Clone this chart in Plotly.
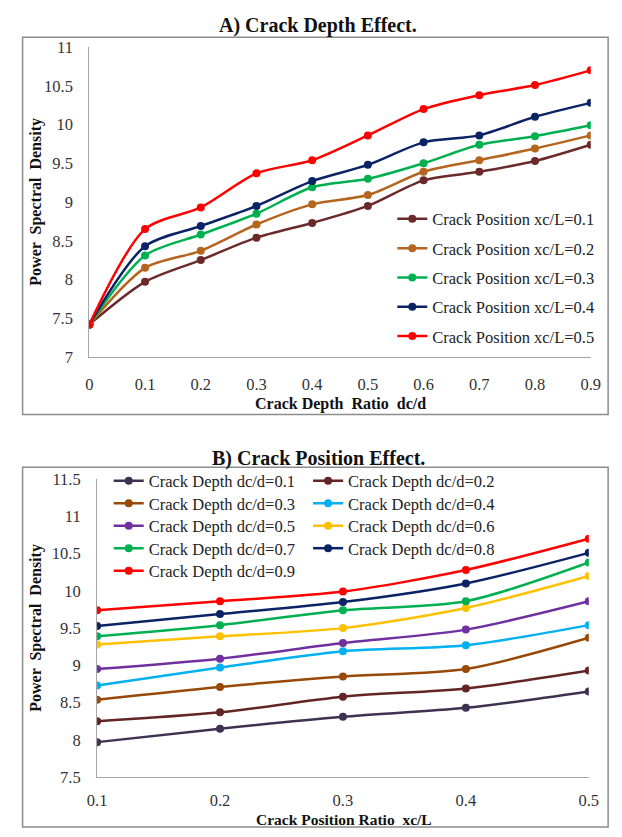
import plotly.graph_objects as go

# ---------------- data ----------------
intact_psd = 7.42
depth_ratios = [0.0, 0.1, 0.2, 0.3, 0.4, 0.5, 0.6, 0.7, 0.8, 0.9]
position_ratios = [0.1, 0.2, 0.3, 0.4, 0.5]

# PSD for each crack depth dc/d, over crack positions xc/L = 0.1 .. 0.5
psd_d01 = [7.97, 8.15, 8.31, 8.43, 8.65]
psd_d02 = [8.25, 8.37, 8.58, 8.69, 8.93]
psd_d03 = [8.54, 8.71, 8.85, 8.95, 9.37]
psd_d04 = [8.73, 8.97, 9.19, 9.27, 9.54]
psd_d05 = [8.95, 9.09, 9.30, 9.48, 9.86]
psd_d06 = [9.28, 9.39, 9.50, 9.77, 10.20]
psd_d07 = [9.39, 9.54, 9.74, 9.86, 10.38]
psd_d08 = [9.53, 9.69, 9.85, 10.10, 10.51]
psd_d09 = [9.74, 9.86, 9.99, 10.28, 10.70]

depth_rows = [psd_d01, psd_d02, psd_d03, psd_d04, psd_d05,
              psd_d06, psd_d07, psd_d08, psd_d09]
depth_labels = ["0.1", "0.2", "0.3", "0.4", "0.5", "0.6", "0.7", "0.8", "0.9"]
position_labels = ["0.1", "0.2", "0.3", "0.4", "0.5"]

colors_top = ["#6B2A2A", "#B5651D", "#00B050", "#0B2265", "#FF0000"]
colors_bottom = ["#3F3151", "#632523", "#984807", "#00B0F0", "#7030A0",
                 "#FFC000", "#00B050", "#0B2265", "#FF0000"]

FONT = "Liberation Serif"
W, H = 622, 837
LEG_SIZE = 16.5

def px_x(p):
    return p / W

def px_y(p):
    return 1 - p / H

fig = go.Figure()
legends = {}

def legend_cfg(x_px, y_px):
    return dict(x=px_x(x_px), y=px_y(y_px), xanchor="left", yanchor="middle",
                orientation="v", bgcolor="rgba(0,0,0,0)", borderwidth=0,
                font=dict(family=FONT, size=LEG_SIZE, color="#222222"),
                itemclick=False, itemdoubleclick=False)

# ---------------- chart A: crack depth effect ----------------
for j, (lab, col) in enumerate(zip(position_labels, colors_top)):
    yvals = [intact_psd] + [row[j] for row in depth_rows]
    lname = "legend" if j == 0 else f"legend{j + 1}"
    legends[lname] = legend_cfg(395, 215 + 30 * j)
    fig.add_trace(go.Scatter(
        x=depth_ratios, y=yvals, mode="lines+markers",
        name=f"Crack Position xc/L={lab}",
        line=dict(color=col, width=2.5, shape="spline", smoothing=0.8),
        marker=dict(color=col, size=8),
        xaxis="x", yaxis="y", legend=lname,
    ))

# ---------------- chart B: crack position effect ----------------
for i, (lab, col, row) in enumerate(zip(depth_labels, colors_bottom, depth_rows)):
    lname = f"legend{6 + i}"
    col_x = 102 if i % 2 == 0 else 308
    legends[lname] = legend_cfg(col_x, 483 + 23 * (i // 2))
    fig.add_trace(go.Scatter(
        x=position_ratios, y=row, mode="lines+markers",
        name=f"Crack Depth dc/d={lab}",
        line=dict(color=col, width=2.5, shape="spline", smoothing=0.8),
        marker=dict(color=col, size=8),
        xaxis="x2", yaxis="y2", legend=lname,
    ))

axis_common = dict(showgrid=False, zeroline=False, showline=True,
                   linecolor="#A6A6A6", linewidth=1.2, ticks="",
                   tickfont=dict(family=FONT, size=16.5, color="#333333"))

fig.update_layout(
    width=W, height=H,
    margin=dict(l=0, r=0, t=0, b=0),
    paper_bgcolor="white", plot_bgcolor="white",
    font=dict(family=FONT, color="#222222"),
    xaxis=dict(domain=[px_x(82), px_x(600)], range=[0, 0.9], dtick=0.1,
               anchor="y", ticklabelstandoff=12, **axis_common),
    yaxis=dict(domain=[px_y(356), px_y(39)], range=[7, 11], dtick=0.5,
               anchor="x", ticklabelstandoff=12, **axis_common),
    xaxis2=dict(domain=[px_x(90), px_x(598)], range=[0.1, 0.5], dtick=0.1,
                anchor="y2", ticklabelstandoff=8, **axis_common),
    yaxis2=dict(domain=[px_y(786), px_y(481)], range=[7.5, 11.5], dtick=0.5,
                anchor="x2", ticklabelstandoff=12, **axis_common),
    showlegend=True,
    **legends,
)

# outer frames
fig.add_shape(type="rect", xref="paper", yref="paper",
              x0=px_x(13), x1=px_x(618), y0=px_y(415), y1=px_y(29),
              line=dict(color="#8C8C8C", width=1.5), layer="below")
fig.add_shape(type="rect", xref="paper", yref="paper",
              x0=px_x(13), x1=px_x(618), y0=px_y(837), y1=px_y(469),
              line=dict(color="#8C8C8C", width=1.5), layer="below")

# titles and axis titles
ann = [
    dict(text="<b>A) Crack Depth Effect.</b>", x=px_x(318), y=px_y(17), size=20, angle=0),
    dict(text="<b>B) Crack Position Effect.</b>", x=px_x(319), y=px_y(460), size=20, angle=0),
    dict(text="<b>Crack Depth  Ratio  dc/d</b>", x=px_x(341), y=px_y(404), size=16, angle=0),
    dict(text="<b>Crack Position Ratio  xc/L</b>", x=px_x(345), y=px_y(829), size=15.5, angle=0),
    dict(text="<b>Power  Spectral  Density</b>", x=px_x(26), y=px_y(197), size=16, angle=-90),
    dict(text="<b>Power  Spectral  Density</b>", x=px_x(26), y=px_y(633), size=16, angle=-90),
]
for a in ann:
    fig.add_annotation(text=a["text"], x=a["x"], y=a["y"], xref="paper", yref="paper",
                       xanchor="center", yanchor="middle", showarrow=False,
                       textangle=a["angle"],
                       font=dict(family=FONT, size=a["size"], color="#111111"))

page_css = ("document.documentElement.style.margin='0';"
            "document.documentElement.style.overflow='hidden';"
            "document.body.style.margin='0';"
            "document.body.style.overflow='hidden';")

fig.write_html("out.html", post_script=page_css,
               config={"displayModeBar": False, "responsive": False})
